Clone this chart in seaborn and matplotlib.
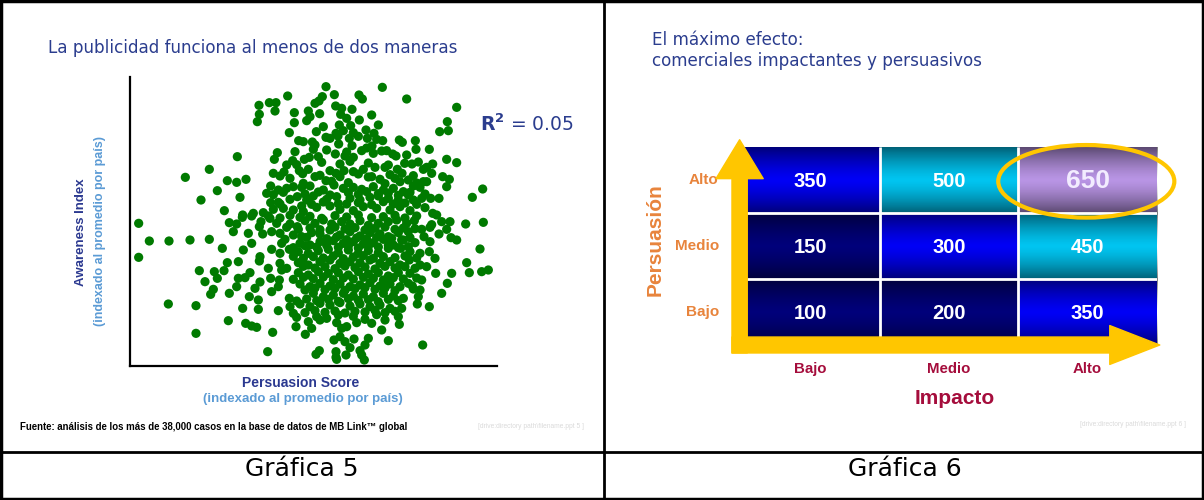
import numpy as np
import pandas as pd
import matplotlib
matplotlib.use("Agg")
import matplotlib.pyplot as plt
import seaborn as sns
from matplotlib.colors import ListedColormap, BoundaryNorm
from matplotlib.patches import Ellipse, Rectangle
from matplotlib.lines import Line2D

sns.set_theme(style="white")
plt.rcParams['font.family'] = ['DejaVu Sans']

# ---- Gráfica 5: persuasion vs awareness, one dot per ad (indexed to country mean)
persuasion = [
    99.8, 116.7, 88.3, 102.3, 109.7, 110.7, 124.0, 98.7, 97.7, 96.5, 82.8, 84.8, 79.7, 102.7, 104.5, 139.0, 107.6, 84.5, 79.8, 90.3, 94.5, 97.9, 95.0, 104.2, 113.5,
    79.2, 90.3, 94.0, 109.8, 136.2, 103.8, 107.2, 115.5, 133.9, 136.5, 88.8, 96.9, 102.8, 108.0, 111.8, 114.2, 105.0, 99.8, 91.6, 93.0, 95.7, 103.4, 106.8, 112.2, 115.0, 116.8, 121.8, 122.7, 126.6, 126.8, 130.8, 103.6, 107.6, 113.6, 96.5,
    73.2, 85.2, 84.3, 89.8, 93.3, 94.8, 96.0, 97.5, 102.6, 105.5, 108.0, 110.5, 114.0, 116.5, 119.8, 120.8, 124.0, 123.4, 125.6, 131.8, 130.0, 136.0, 139.0, 64.8, 57.6, 70.2, 73.0, 75.8, 91.8, 94.5, 101.0, 102.8, 105.2, 108.0, 111.0, 114.5, 117.5, 121.2, 122.6, 129.0, 134.8, 136.8, 84.0, 87.2, 89.0, 96.5, 99.8, 113.5, 116.0, 120.5, 124.5,
    67.2, 62.3, 74.0, 83.2, 85.5, 88.0, 90.0, 92.5, 95.0, 99.0, 102.2, 105.0, 108.0, 110.5, 114.0, 117.0, 120.0, 123.0, 126.0, 128.0, 130.0, 136.0, 146.8, 143.7, 128.5, 131.2, 133.7, 82.0, 83.2, 86.0, 89.0, 91.2, 94.0, 96.0, 100.0, 103.0, 107.0, 110.0, 113.0, 115.5, 118.5, 121.5, 124.5, 126.0, 69.3, 81.0, 84.0, 87.0, 90.0, 93.0, 97.0, 101.0, 104.0, 108.0, 111.0, 115.0, 119.0, 122.0, 125.0, 129.5, 131.8, 133.0, 92.5, 106.0,
    43.6, 46.8, 52.7, 59.0, 64.8, 74.8, 77.5, 70.8, 73.0, 74.7, 80.3, 79.8, 83.0, 80.8, 83.5, 86.0, 86.5, 89.0, 91.2, 93.5, 96.5, 99.0, 101.5, 104.5, 107.0, 110.0, 112.5, 115.5, 118.5, 121.0, 124.0, 126.3, 128.5, 131.5, 134.5, 137.0, 141.7, 147.0, 133.7, 136.0, 137.3, 139.0, 129.2, 124.5, 90.0, 92.5, 95.5, 98.0, 101.0, 104.0, 107.0, 110.0, 113.0, 116.0, 118.5, 121.5, 77.5, 68.7, 92.0, 95.0, 98.0, 102.0, 105.0, 108.0, 111.0, 114.0, 117.0, 120.0, 123.0, 126.5,
    43.6, 75.0, 83.5, 86.0, 88.8, 91.5, 94.5, 97.5, 100.5, 103.5, 106.5, 109.5, 112.5, 115.5, 118.5, 122.2, 125.0, 128.0, 130.8, 132.5, 146.0, 142.0, 142.8, 146.5, 148.5, 70.2, 73.5, 79.8, 77.0, 75.5, 73.5, 61.8, 66.3, 69.2, 63.5, 67.2, 82.5, 86.0, 91.5, 94.5, 98.0, 101.0, 104.0, 107.0, 110.0, 113.0, 116.0, 119.0, 122.0, 124.8, 128.0, 130.0, 132.7, 137.5, 91.5, 94.5, 97.5, 100.5, 103.5, 106.5, 109.5, 112.5, 115.5, 118.5, 121.5, 125.0, 80.0, 83.2, 85.8,
    136.2, 134.5, 125.7, 128.0, 66.0, 65.2, 70.8, 73.0, 76.8, 79.5, 74.8, 83.5, 85.5, 88.8, 92.0, 95.0, 98.0, 101.0, 104.0, 107.0, 110.0, 113.0, 116.0, 119.0, 122.0, 124.5, 96.0, 99.0, 102.0, 105.0, 108.0, 111.0, 114.0, 117.0, 120.0, 123.0, 127.5, 52.5, 60.8, 79.5, 85.5, 89.0, 92.0, 95.0, 98.0, 101.0, 104.0, 107.0, 110.0, 113.0, 116.0, 119.0, 122.5, 127.2, 130.8, 90.0,
    70.5, 75.7, 77.5, 79.0, 91.0, 94.5, 98.0, 100.0, 103.0, 106.0, 109.0, 111.5, 113.5, 117.5, 121.5, 121.8, 90.8, 95.5, 104.5, 116.5, 60.8, 83.8, 93.6, 102.2, 104.0, 105.5, 108.2, 112.5, 118.5, 128.8, 82.3, 96.8, 97.8, 102.8, 102.8, 105.8, 107.0, 110.0, 110.5, 111.5, 103.0, 111.3,
]
awareness = [
    143.0, 142.8, 140.2, 140.6, 140.5, 139.3, 139.3, 140.0, 138.7, 138.0, 138.2, 138.2, 137.4, 137.2, 136.5, 136.8, 136.2, 135.7, 134.7, 135.2, 135.7, 134.9, 134.0, 134.7, 134.5,
    132.5, 132.2, 132.8, 133.0, 132.5, 131.5, 131.3, 131.5, 129.5, 129.8, 129.2, 129.5, 129.0, 129.2, 130.0, 129.0, 129.8, 127.8, 126.8, 126.5, 126.4, 128.2, 127.5, 127.5, 127.2, 126.8, 127.0, 126.3, 126.8, 124.2, 124.2, 125.8, 125.3, 125.2, 125.5,
    122.0, 123.2, 121.2, 120.8, 121.2, 121.8, 124.2, 122.0, 122.8, 122.2, 121.8, 123.8, 123.0, 123.7, 122.8, 122.2, 122.5, 120.0, 119.8, 119.8, 118.8, 121.2, 120.2, 118.2, 115.8, 114.8, 114.3, 115.2, 117.8, 118.2, 117.8, 117.0, 117.8, 117.5, 118.2, 118.8, 118.8, 118.2, 117.0, 118.2, 116.0, 115.2, 117.0, 117.4, 115.5, 116.0, 114.8, 116.0, 115.2, 115.5, 115.0,
    111.8, 109.0, 109.8, 113.2, 112.0, 112.5, 113.0, 112.8, 113.2, 112.0, 113.5, 112.5, 112.8, 112.2, 113.0, 112.0, 112.5, 111.5, 113.2, 112.8, 114.5, 113.0, 112.3, 109.8, 109.5, 109.5, 109.5, 111.0, 108.2, 107.8, 109.2, 110.0, 109.0, 110.2, 109.2, 110.0, 109.5, 109.0, 109.8, 110.2, 109.5, 109.0, 110.5, 109.0, 105.8, 105.2, 106.2, 106.5, 106.0, 105.5, 106.8, 107.2, 106.2, 105.8, 107.0, 106.5, 106.0, 107.0, 105.8, 106.7, 105.0, 104.5, 107.2, 107.8,
    102.0, 96.7, 96.7, 97.0, 97.2, 104.5, 104.2, 102.2, 101.8, 103.8, 102.5, 101.0, 103.5, 98.8, 99.5, 99.0, 96.0, 101.8, 101.0, 102.8, 102.0, 103.0, 101.8, 102.5, 101.8, 102.8, 101.4, 102.0, 102.5, 103.0, 102.0, 102.8, 100.2, 101.6, 102.5, 102.5, 101.8, 102.3, 98.8, 100.2, 97.7, 97.0, 98.0, 99.5, 98.5, 98.0, 99.2, 98.8, 100.0, 98.5, 99.5, 98.2, 99.2, 98.8, 98.0, 99.2, 96.0, 94.5, 96.0, 95.5, 96.5, 96.8, 96.0, 96.5, 95.8, 96.2, 97.2, 95.5, 97.0, 96.2,
    91.8, 94.0, 94.2, 93.0, 94.2, 93.5, 93.0, 93.8, 94.2, 93.2, 94.0, 93.0, 93.8, 93.2, 94.5, 94.5, 93.5, 93.0, 93.5, 91.5, 94.3, 90.2, 87.2, 87.5, 88.0, 90.2, 90.5, 90.7, 87.2, 85.7, 85.5, 87.8, 87.5, 87.8, 84.5, 85.5, 88.5, 90.0, 90.2, 89.5, 90.5, 91.0, 90.0, 90.5, 90.2, 91.0, 90.0, 90.5, 89.5, 91.0, 89.5, 89.0, 87.0, 87.0, 87.2, 86.5, 87.5, 87.0, 87.2, 86.5, 87.5, 86.8, 87.2, 86.2, 87.2, 87.0, 84.4, 85.5, 85.0,
    84.0, 81.0, 83.2, 82.0, 82.2, 80.7, 81.0, 83.0, 80.0, 79.0, 76.5, 81.5, 83.0, 79.5, 83.8, 83.0, 84.0, 83.2, 83.8, 83.0, 83.5, 84.2, 83.2, 83.8, 83.0, 84.0, 81.0, 80.0, 80.5, 81.0, 80.2, 80.8, 80.0, 81.0, 80.2, 79.5, 80.0, 77.8, 77.3, 76.2, 75.8, 77.0, 77.8, 77.0, 78.0, 77.5, 78.2, 77.2, 77.8, 77.0, 77.5, 76.5, 76.5, 77.8, 77.0, 75.0,
    72.8, 72.0, 71.2, 70.8, 73.8, 72.5, 73.0, 73.5, 72.2, 71.0, 72.2, 73.2, 72.0, 73.0, 74.0, 71.7, 71.0, 70.5, 70.5, 70.0, 69.0, 69.3, 68.7, 67.0, 68.0, 66.5, 67.3, 67.5, 66.8, 65.5, 63.5, 62.7, 63.8, 63.5, 61.8, 62.5, 64.7, 63.8, 62.5, 65.5, 61.2, 61.0,
]
# ads packed into the dense middle of the cloud
dense_persuasion = [
    100.0, 106.0, 112.0, 118.0, 101.0, 109.5,
    91.0, 98.5, 104.0, 107.0, 112.5, 118.5, 127.5,
    86.0, 92.8, 98.0, 104.0, 109.5, 112.5, 119.0, 126.0, 131.5,
    93.0, 101.5, 106.5, 117.5, 122.0, 127.0,
    84.0, 87.0, 93.5, 97.5, 101.0, 106.5, 109.5, 112.0, 115.5, 118.5, 121.5, 125.0, 129.5,
    85.5, 95.5, 99.0, 103.5, 109.5, 113.5, 117.0, 120.0, 123.5, 127.0,
    82.5, 86.0, 89.0, 92.0, 95.0, 98.5, 102.5, 106.0, 109.5, 113.5, 117.0, 120.5, 123.5, 127.0,
    88.0, 91.5, 95.0, 98.0, 102.5, 105.5, 108.5, 111.5, 114.5, 117.5, 120.5, 123.0, 126.5, 131.0,
    87.5, 94.0, 100.0, 103.0, 106.0, 109.0, 112.0, 115.0, 119.5, 122.5, 125.0,
    90.0, 93.5, 97.0, 100.0, 103.5, 106.5, 109.5, 112.5, 115.5, 118.5, 121.5, 124.5,
    90.0, 93.0, 96.0, 99.0, 102.0, 105.0, 108.0, 111.0, 114.0, 117.0, 120.5, 123.5, 127.0,
    88.0, 93.0, 96.5, 99.5, 102.5, 105.5, 108.5, 111.5, 114.5, 117.5, 120.5, 123.5, 126.5,
    90.0, 93.0, 96.0, 99.0, 102.0, 105.0, 108.0, 111.0, 114.0, 117.0, 120.0, 123.0, 127.0,
    93.5, 96.5, 99.5, 102.5, 105.5, 108.5, 111.5, 114.5, 117.5, 120.5, 126.0,
    91.0, 94.0, 97.0, 100.5, 103.5, 106.5, 109.5, 112.5, 115.5, 118.5, 121.5,
    93.5, 96.5, 99.5, 102.5, 105.5, 108.5, 111.5, 114.5, 117.5, 120.5,
    97.0, 103.5, 108.0, 115.0,
    78.0, 76.5, 72.0, 80.0, 78.5, 86.5, 85.0, 88.0, 90.5, 99.0, 106.0, 129.0, 131.0, 128.5,
]
dense_awareness = [
    124.0, 123.4, 124.6, 123.8, 127.5, 128.1,
    119.6, 120.3, 119.8, 120.6, 120.1, 119.5, 120.4,
    116.2, 116.9, 116.4, 116.0, 116.8, 115.9, 116.6, 116.3, 117.0,
    114.0, 114.6, 114.2, 113.9, 114.5, 114.1,
    110.6, 111.3, 110.8, 111.4, 110.5, 111.2, 110.7, 111.5, 110.9, 111.1, 110.4, 111.3, 110.8,
    108.3, 107.7, 108.4, 107.9, 108.2, 107.6, 108.5, 107.8, 108.1, 107.7,
    104.2, 103.6, 104.4, 103.8, 104.1, 103.5, 104.3, 103.9, 104.5, 103.7, 104.0, 104.4, 103.6, 104.2,
    100.8, 100.2, 100.6, 100.1, 100.9, 100.3, 100.7, 100.0, 100.5, 100.9, 100.2, 100.6, 100.4, 100.8,
    97.2, 97.8, 97.4, 97.9, 97.1, 97.6, 97.3, 97.8, 97.5, 97.0, 97.7,
    94.7, 95.3, 94.9, 95.4, 94.8, 95.2, 94.6, 95.1, 94.9, 95.4, 94.7, 95.0,
    92.1, 91.5, 92.0, 91.6, 92.2, 91.4, 91.9, 92.3, 91.5, 92.0, 91.7, 92.2, 91.6,
    88.5, 89.1, 88.6, 89.0, 88.4, 89.2, 88.7, 88.9, 88.3, 89.1, 88.6, 89.0, 88.5,
    85.2, 85.8, 85.4, 85.9, 85.1, 85.6, 85.3, 85.8, 85.5, 85.0, 85.7, 85.3, 85.6,
    82.0, 82.6, 82.1, 82.5, 81.9, 82.4, 82.7, 82.2, 82.6, 81.8, 82.3,
    78.7, 79.3, 78.8, 79.2, 78.6, 79.4, 78.9, 79.1, 78.5, 79.2, 78.8,
    75.2, 75.8, 75.3, 75.7, 75.1, 75.6, 75.4, 75.9, 75.2, 75.6,
    74.0, 74.5, 74.1, 74.6,
    105.0, 99.0, 99.5, 92.0, 82.5, 88.0, 102.0, 119.5, 123.5, 131.0, 133.5, 114.5, 96.5, 85.0,
]

# ---- Gráfica 6: impact x persuasion matrix
impact_levels = ["Bajo", "Medio", "Alto"]
persuasion_levels = ["Alto", "Medio", "Bajo"]
effect_values = [
    [350, 500, 650],
    [150, 300, 450],
    [100, 200, 350],
]

TITLE_BLUE = "#2B3D8E"
LABEL_BLUE = "#2B3990"
LIGHT_BLUE = "#5B9BD5"
ORANGE = "#E8843C"
CRIMSON = "#A50D3C"
GOLD = "#FFC600"

W, H = 1204, 500
fig = plt.figure(figsize=(W / 100, H / 100), dpi=100)
fig.patch.set_facecolor("white")


def fx(px):
    return px / W


def fy(py):
    return 1 - py / H


# ---------------- left panel ----------------
ax1 = fig.add_axes([fx(130), fy(366), fx(497) - fx(130), fy(77) - fy(366)])
df = pd.DataFrame({"persuasion": persuasion + dense_persuasion,
                   "awareness": awareness + dense_awareness})
sns.scatterplot(data=df, x="persuasion", y="awareness", color="#007A00",
                s=44, edgecolor="none", linewidth=0, ax=ax1, legend=False)
ax1.set_xlim(41, 151.1)
ax1.set_ylim(59.2, 145.9)
ax1.set_xticks([])
ax1.set_yticks([])
ax1.set_xlabel("")
ax1.set_ylabel("")
ax1.set_facecolor("white")
for side in ["top", "right"]:
    ax1.spines[side].set_visible(False)
for side in ["left", "bottom"]:
    ax1.spines[side].set_color("black")
    ax1.spines[side].set_linewidth(1.6)

fig.text(fx(48), fy(48), "La publicidad funciona al menos de dos maneras",
         color=TITLE_BLUE, fontsize=12.1, va="center", ha="left")
fig.text(fx(480), fy(124), r"$\mathbf{R^2}$ = 0.05", color=TITLE_BLUE,
         fontsize=13.5, va="center", ha="left")
fig.text(fx(81), fy(232), "Awareness Index", rotation=90, color=LABEL_BLUE,
         fontsize=9.5, fontweight="bold", family="Liberation Sans", ha="center", va="center")
fig.text(fx(100), fy(231), "(indexado al promedio por país)", rotation=90, color=LIGHT_BLUE,
         fontsize=9, fontweight="bold", family="Liberation Sans", ha="center", va="center")
fig.text(fx(301), fy(383), "Persuasion Score", color=LABEL_BLUE,
         fontsize=10, fontweight="bold", family="Liberation Sans", ha="center", va="center")
fig.text(fx(303), fy(399), "(indexado al promedio por país)", color=LIGHT_BLUE,
         fontsize=9.5, fontweight="bold", family="Liberation Sans", ha="center", va="center")
fig.text(fx(20), fy(427), "Fuente: análisis de los más de 38,000 casos en la base de datos de MB Link™ global",
         color="black", fontsize=6.9, fontweight="bold", family="Liberation Sans", ha="left", va="center")
fig.text(fx(478), fy(427), "[drive:directory path\\filename.ppt 5 ]", color="#DADADA",
         fontsize=4.8, family="Liberation Sans", ha="left", va="center")
fig.text(fx(302), fy(469), "Gráfica 5", color="black", fontsize=18, ha="center", va="center")

# ---------------- right panel ----------------
fig.text(fx(652), fy(40), "El máximo efecto:", color=TITLE_BLUE, fontsize=12.1, va="center", ha="left")
fig.text(fx(652), fy(61), "comerciales impactantes y persuasivos", color=TITLE_BLUE,
         fontsize=12.1, va="center", ha="left")

ax2 = fig.add_axes([fx(741), fy(345), fx(1157) - fx(741), fy(147) - fy(345)])
matrix = pd.DataFrame(effect_values, index=persuasion_levels, columns=impact_levels)
cell_cmap = ListedColormap(["#00007A", "#0000F5", "#00C4F0", "#B894E4"])
cell_norm = BoundaryNorm([0, 250, 400, 600, 700], cell_cmap.N)
sns.heatmap(matrix, cmap=cell_cmap, norm=cell_norm, cbar=False, linewidths=0,
            annot=False, ax=ax2)

# soft vertical shading on each row of cells
t = np.linspace(0, 1, 64)
shade = np.zeros((64, 1, 4))
shade[:, 0, 3] = 0.5 * np.abs(2 * t - 1) ** 1.4
for r in range(3):
    ax2.imshow(shade, extent=(0, 3, r + 1, r), aspect="auto", zorder=1.5,
               interpolation="bilinear")
ax2.set_xlim(0, 3)
ax2.set_ylim(3, 0)
ax2.hlines([1, 2], 0, 3, color="white", lw=2, zorder=2)
ax2.vlines([1, 2], 0, 3, color="white", lw=2, zorder=2)

top_value = max(max(row) for row in effect_values)
for r, row in enumerate(effect_values):
    for c, v in enumerate(row):
        big = v == top_value
        ax2.text(c + 0.5, r + 0.52, str(v), ha="center", va="center",
                 color="#F2ECFF" if big else "white", fontweight="bold",
                 family="Liberation Sans", fontsize=19 if big else 14.5, zorder=4)

ax2.add_patch(Ellipse((2.49, 0.52), 1.27, 1.1, fill=False, edgecolor=GOLD,
                      lw=3, clip_on=False, zorder=5))

# axis arrows
ax2.annotate("", xy=(-0.01, -0.11), xytext=(-0.01, 3.12),
             arrowprops=dict(arrowstyle="simple,head_length=28,head_width=34,tail_width=11",
                             mutation_scale=1, color=GOLD, shrinkA=0, shrinkB=0),
             annotation_clip=False, zorder=6)
ax2.annotate("", xy=(3.02, 3.0), xytext=(-0.065, 3.0),
             arrowprops=dict(arrowstyle="simple,head_length=36,head_width=28,tail_width=11.5",
                             mutation_scale=1, color=GOLD, shrinkA=0, shrinkB=0),
             annotation_clip=False, zorder=6)

ax2.set_xticklabels(impact_levels, color=CRIMSON, fontweight="bold",
                    family="Liberation Sans", fontsize=10.8, rotation=0)
ax2.set_yticklabels(persuasion_levels, color=ORANGE, fontweight="bold",
                    family="Liberation Sans", fontsize=11, rotation=0)
ax2.tick_params(axis="x", length=0, pad=12)
ax2.tick_params(axis="y", length=0, pad=16)
ax2.set_xlabel("")
ax2.set_ylabel("")
for s in ax2.spines.values():
    s.set_visible(False)

fig.text(fx(955), fy(399), "Impacto", color=CRIMSON, fontsize=15, fontweight="bold",
         family="Liberation Sans", ha="center", va="center")
fig.text(fx(655), fy(240), "Persuasión", color=ORANGE, fontsize=15, fontweight="bold",
         family="Liberation Sans", rotation=90, ha="center", va="center")
fig.text(fx(1080), fy(424), "[drive:directory path\\filename.ppt 6 ]", color="#DADADA",
         fontsize=4.8, family="Liberation Sans", ha="left", va="center")
fig.text(fx(905), fy(469), "Gráfica 6", color="black", fontsize=18, ha="center", va="center")

# panel frame
fig.add_artist(Rectangle((0.0012, 0.002), 0.9976, 0.996, transform=fig.transFigure,
                         fill=False, edgecolor="black", lw=2.5))
fig.add_artist(Line2D([fx(604), fx(604)], [0, 1], transform=fig.transFigure, color="black", lw=2))
fig.add_artist(Line2D([0, 1], [fy(452), fy(452)], transform=fig.transFigure, color="black", lw=2))

fig.savefig("out.png", dpi=100, facecolor="white")
